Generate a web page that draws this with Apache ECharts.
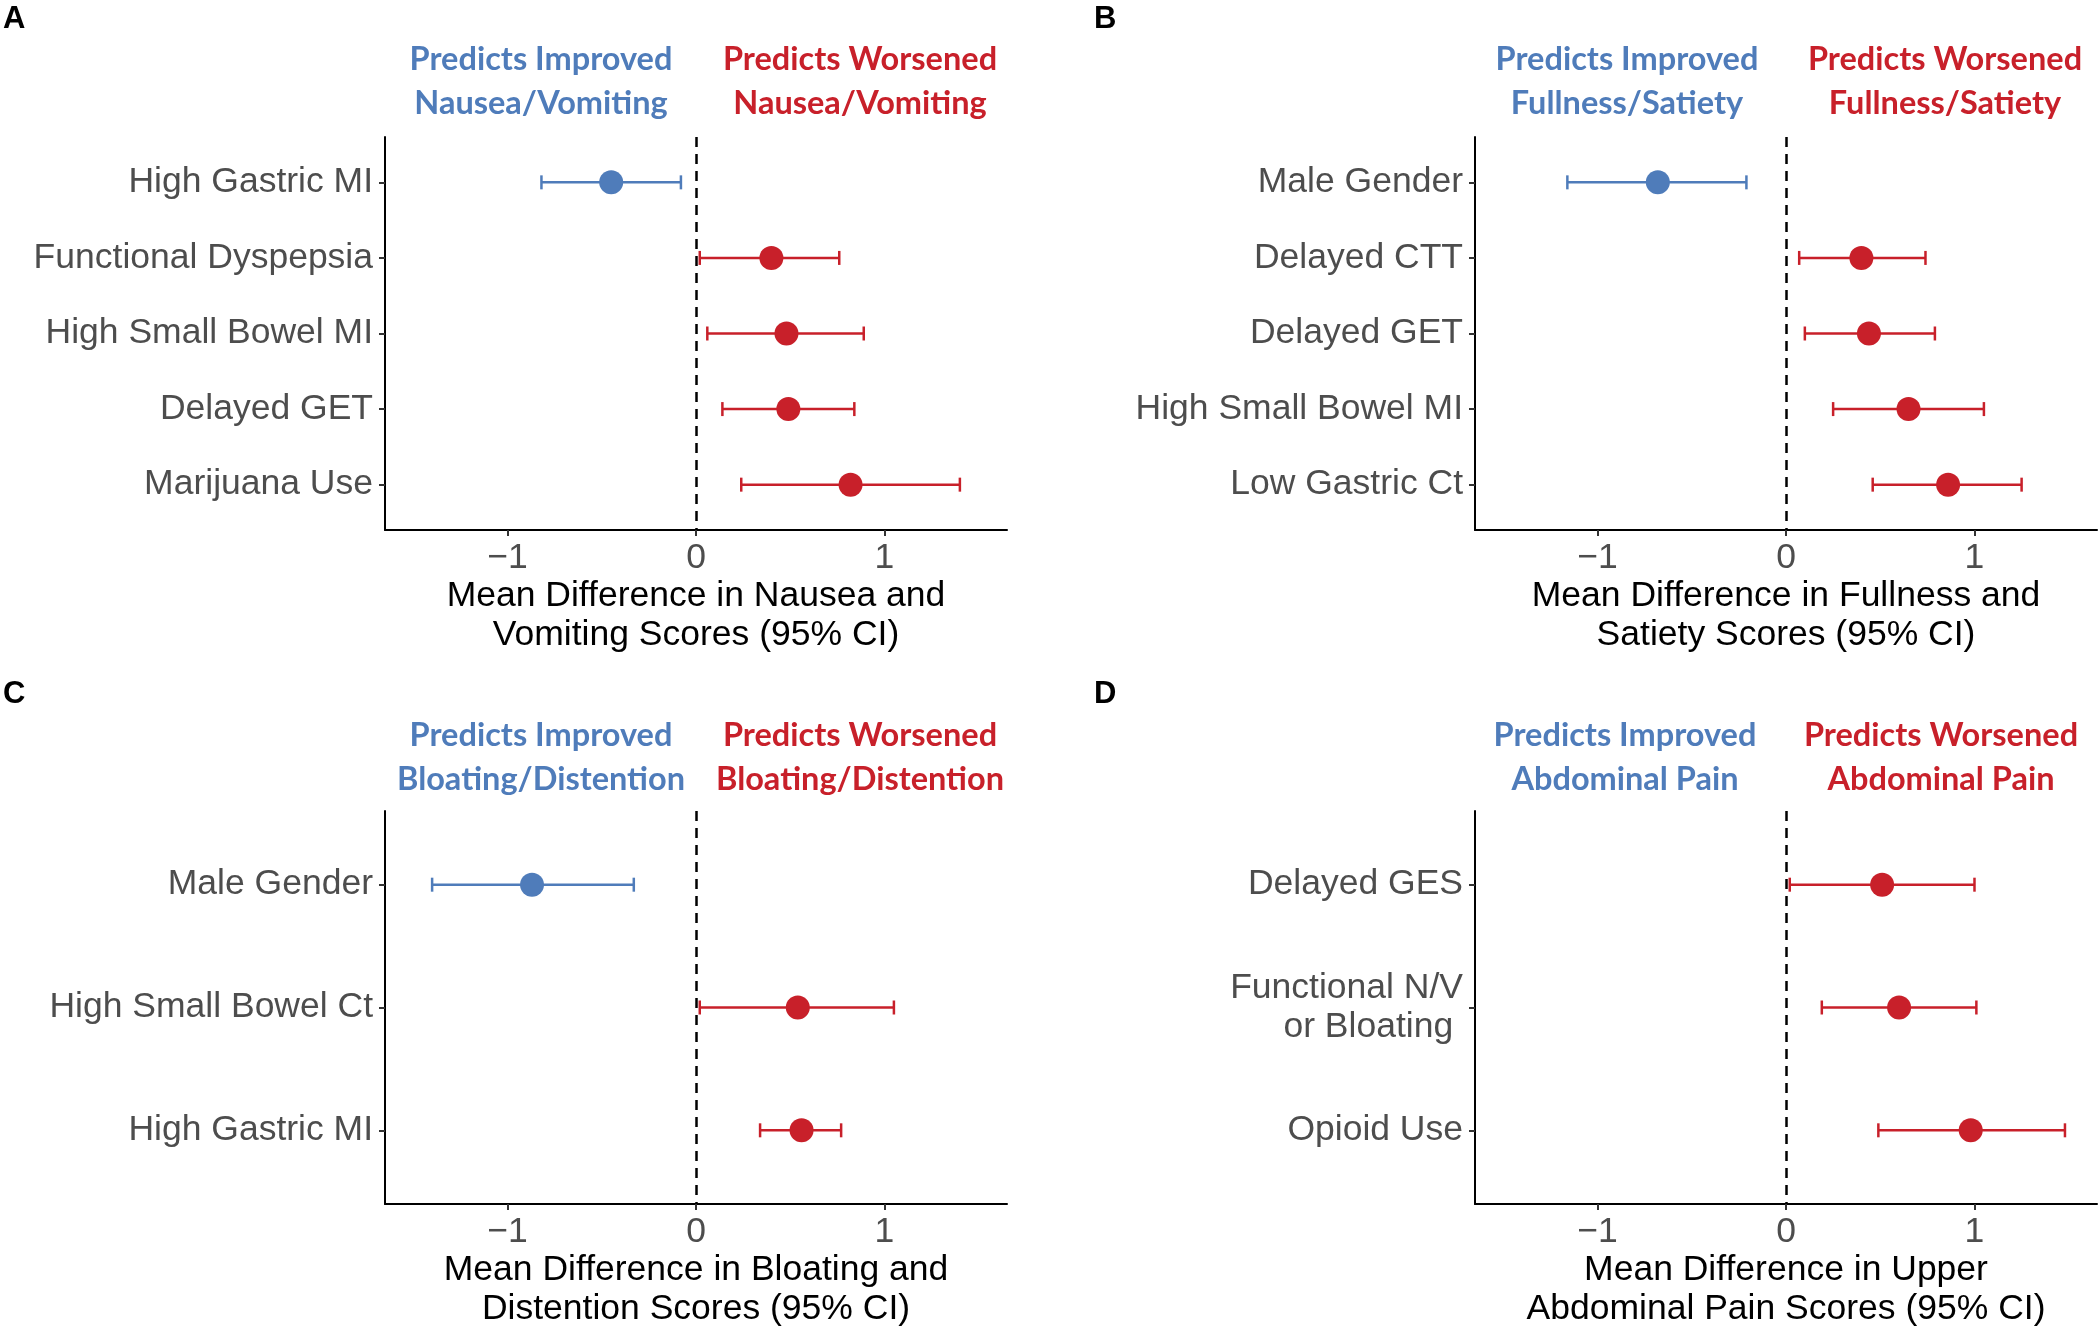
<!DOCTYPE html>
<html>
<head>
<meta charset="utf-8">
<script src="https://cdn.jsdelivr.net/npm/echarts@6/dist/echarts.min.js"></script>
<style>
html, body { margin: 0; padding: 0; background: #fff; }
#chart { width: 2100px; height: 1333px; }
</style>
</head>
<body>
<div id="chart"></div>
<script>
// A: nausea / vomiting
const catsA = ['High Gastric MI', 'Functional Dyspepsia', 'High Small Bowel MI', 'Delayed GET', 'Marijuana Use'];
const meanA = [-0.45, 0.40, 0.48, 0.49, 0.82];
const lowA = [-0.82, 0.02, 0.06, 0.14, 0.24];
const highA = [-0.08, 0.76, 0.89, 0.84, 1.40];

// B: fullness / satiety
const catsB = ['Male Gender', 'Delayed CTT', 'Delayed GET', 'High Small Bowel MI', 'Low Gastric Ct'];
const meanB = [-0.68, 0.40, 0.44, 0.65, 0.86];
const lowB = [-1.16, 0.07, 0.10, 0.25, 0.46];
const highB = [-0.21, 0.74, 0.79, 1.05, 1.25];

// C: bloating / distention
const catsC = ['Male Gender', 'High Small Bowel Ct', 'High Gastric MI'];
const meanC = [-0.87, 0.54, 0.56];
const lowC = [-1.40, 0.02, 0.34];
const highC = [-0.33, 1.05, 0.77];

// D: upper abdominal pain
const catsD = ['Delayed GES', 'Functional N/V\nor Bloating ', 'Opioid Use'];
const meanD = [0.51, 0.60, 0.98];
const lowD = [0.02, 0.19, 0.49];
const highD = [1.00, 1.01, 1.48];

const xTicks = [-1, 0, 1];

const BLUE = '#4f7cba';
const RED = '#c8202a';
const FONT = 'Liberation Sans';
const FS = 35.5;

const panels = [
  { letter: 'A', cats: catsA, mean: meanA, low: lowA, high: highA, left: 385, top: 137, height: 393,
    what: 'Nausea/Vomiting', impX: 541, worX: 860, headY: 38, letterX: 3, letterY: 19,
    xName: 'Mean Difference in Nausea and\nVomiting Scores (95% CI)' },
  { letter: 'B', cats: catsB, mean: meanB, low: lowB, high: highB, left: 1475, top: 137, height: 393,
    what: 'Fullness/Satiety', impX: 1627, worX: 1945, headY: 38, letterX: 1094, letterY: 19,
    xName: 'Mean Difference in Fullness and\nSatiety Scores (95% CI)' },
  { letter: 'C', cats: catsC, mean: meanC, low: lowC, high: highC, left: 385, top: 811, height: 393,
    what: 'Bloating/Distention', impX: 541, worX: 860, headY: 714, letterX: 3, letterY: 694,
    xName: 'Mean Difference in Bloating and\nDistention Scores (95% CI)' },
  { letter: 'D', cats: catsD, mean: meanD, low: lowD, high: highD, left: 1475, top: 811, height: 393,
    what: 'Abdominal Pain', impX: 1625, worX: 1941, headY: 714, letterX: 1094, letterY: 694,
    xName: 'Mean Difference in Upper\nAbdominal Pain Scores (95% CI)' }
];

function renderBar(params, api) {
  const y = api.value(2);
  const p1 = api.coord([api.value(0), y]);
  const p2 = api.coord([api.value(1), y]);
  const color = api.value(3) < 0 ? BLUE : RED;
  const h = 7;
  const style = { stroke: color, lineWidth: 2.5 };
  return {
    type: 'group',
    children: [
      { type: 'line', shape: { x1: p1[0], y1: p1[1], x2: p2[0], y2: p2[1] }, style: style },
      { type: 'line', shape: { x1: p1[0], y1: p1[1] - h, x2: p1[0], y2: p1[1] + h }, style: style },
      { type: 'line', shape: { x1: p2[0], y1: p2[1] - h, x2: p2[0], y2: p2[1] + h }, style: style }
    ]
  };
}

const grids = [], xAxes = [], yAxes = [], series = [], graphics = [];

panels.forEach(function (p, k) {
  const n = p.cats.length;
  const idx = p.cats.map(function (c, i) { return i; });
  grids.push({ left: p.left, top: p.top, width: 622, height: p.height });
  xAxes.push({
    gridIndex: k, type: 'value', min: -1.65, max: 1.65,
    axisLine: { show: true, onZero: false, lineStyle: { color: '#000', width: 2 } },
    axisTick: { show: true, customValues: xTicks, length: 6, lineStyle: { color: '#333', width: 2 } },
    axisLabel: {
      customValues: xTicks, margin: 10, fontSize: FS, color: '#4d4d4d', fontFamily: FONT,
      formatter: function (v) { return v < 0 ? '\u2212' + Math.abs(v) : String(v); }
    },
    splitLine: { show: false },
    name: p.xName, nameLocation: 'middle', nameGap: 46,
    nameTextStyle: { fontSize: FS, color: '#000', fontFamily: FONT, lineHeight: 39 }
  });
  yAxes.push({
    gridIndex: k, type: 'value', inverse: true, min: -0.6, max: n - 0.4,
    axisLine: { show: true, onZero: false, lineStyle: { color: '#000', width: 2 } },
    axisTick: { show: true, customValues: idx, length: 6, lineStyle: { color: '#333', width: 2 } },
    axisLabel: {
      customValues: idx, margin: 12, fontSize: FS, color: '#4d4d4d', fontFamily: FONT, lineHeight: 39,
      formatter: function (v) { return p.cats[v]; }
    },
    splitLine: { show: false }
  });
  series.push({
    type: 'custom', xAxisIndex: k, yAxisIndex: k,
    renderItem: renderBar,
    encode: { x: [0, 1], y: 2 },
    data: p.low.map(function (l, i) { return [l, p.high[i], i, p.mean[i]]; }),
    z: 2
  });
  series.push({
    type: 'scatter', xAxisIndex: k, yAxisIndex: k,
    symbolSize: 24,
    data: p.mean.map(function (m, i) { return [m, i]; }),
    itemStyle: { color: function (d) { return d.value[0] < 0 ? BLUE : RED; }, opacity: 1 },
    z: 3,
    markLine: {
      silent: true, symbol: 'none', label: { show: false },
      lineStyle: { color: '#000', width: 2.5, type: [10, 7] },
      data: [{ xAxis: 0 }]
    }
  });
  graphics.push({
    type: 'text', x: p.letterX, y: p.letterY,
    style: { text: p.letter, fill: '#000', fontSize: 31, fontWeight: 'bold', fontFamily: FONT,
      align: 'left', textAlign: 'left', verticalAlign: 'middle', textVerticalAlign: 'middle' }
  });
  graphics.push({
    type: 'text', x: p.impX, y: p.headY,
    style: { text: 'Predicts Improved\n' + p.what, fill: BLUE, fontSize: 32.5, fontWeight: 'bold', fontFamily: 'Lato',
      lineHeight: 44, align: 'center', textAlign: 'center', verticalAlign: 'top', textVerticalAlign: 'top' }
  });
  graphics.push({
    type: 'text', x: p.worX, y: p.headY,
    style: { text: 'Predicts Worsened\n' + p.what, fill: RED, fontSize: 32.5, fontWeight: 'bold', fontFamily: 'Lato',
      lineHeight: 44, align: 'center', textAlign: 'center', verticalAlign: 'top', textVerticalAlign: 'top' }
  });
});

const chart = echarts.init(document.getElementById('chart'));
chart.setOption({
  animation: false,
  backgroundColor: '#fff',
  grid: grids,
  xAxis: xAxes,
  yAxis: yAxes,
  series: series,
  graphic: graphics
});
</script>
</body>
</html>
